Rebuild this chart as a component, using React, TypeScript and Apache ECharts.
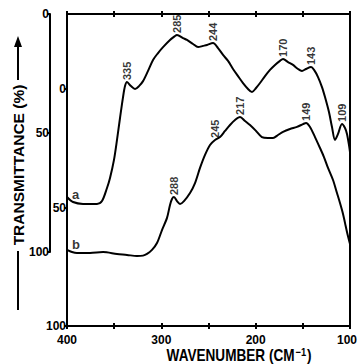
import React, { useEffect, useRef } from "react";
import * as echarts from "echarts";

// Curve a (upper trace, read on the offset left axis)
const waveA = [400, 393.6, 383.0, 368.2, 362.9, 357.6, 354.4, 350.2, 347.0, 343.8, 340.6, 338.5, 336.4, 332.2, 327.9, 323.7, 319.4, 314.1, 308.8, 303.5, 298.2, 290.8, 286.0, 283.4, 277.0, 272.8, 266.4, 261.1, 255.8, 251.6, 245.2, 239.9, 234.6, 229.3, 224.0, 218.7, 213.4, 208.1, 203.9, 199.6, 195.4, 190.1, 184.8, 179.5, 174.2, 171.0, 165.7, 160.4, 155.1, 150.9, 146.6, 141.3, 138.1, 133.9, 129.7, 126.5, 122.3, 119.1, 115.9, 112.7, 108.5, 105.3, 103.2, 101.1, 100.0];
const transA = [76.9, 79.0, 79.8, 79.8, 78.6, 73.1, 68.9, 61.3, 52.9, 43.7, 34.9, 30.3, 28.6, 30.3, 31.5, 30.3, 28.2, 23.9, 19.3, 16.4, 13.9, 10.9, 9.4, 8.8, 10.1, 10.9, 12.6, 13.9, 13.4, 13.0, 12.2, 14.3, 17.2, 19.7, 23.1, 26.1, 29.0, 31.5, 32.8, 31.1, 29.0, 26.1, 23.5, 21.4, 19.7, 18.9, 20.2, 21.4, 23.1, 23.9, 23.1, 22.3, 23.5, 26.5, 30.7, 34.9, 41.2, 47.5, 52.9, 50.4, 46.2, 47.9, 50.4, 55.0, 58.0];

// Curve b (lower trace, read on the inner left axis)
const waveB = [400, 394.7, 389.4, 375.6, 361.8, 347.0, 336.4, 325.8, 319.4, 315.2, 309.9, 304.6, 299.3, 294.0, 290.8, 288.7, 286.6, 283.4, 280.2, 276.0, 269.6, 264.3, 259.0, 253.7, 248.4, 243.1, 237.8, 232.5, 227.2, 221.9, 216.6, 211.3, 206.0, 199.6, 193.4, 187.0, 181.6, 176.3, 171.0, 163.6, 156.2, 149.8, 146.6, 142.4, 137.1, 131.8, 127.6, 123.3, 118.0, 113.8, 110.6, 107.4, 105.3, 103.2, 101.1, 100.0];
const transB = [67.9, 68.8, 69.2, 69.2, 68.8, 69.6, 70.0, 70.5, 70.3, 69.6, 67.9, 65.0, 59.5, 54.4, 48.9, 46.4, 45.6, 47.3, 48.5, 47.3, 43.9, 39.7, 33.3, 27.8, 23.6, 21.5, 20.3, 17.7, 15.2, 13.1, 11.8, 13.5, 15.2, 17.7, 20.3, 20.7, 20.7, 19.4, 18.1, 16.9, 16.0, 14.8, 14.3, 16.0, 20.3, 24.9, 28.7, 33.3, 38.4, 43.9, 48.1, 52.7, 56.5, 60.3, 63.7, 65.4];

// Peak annotations
const peakNamesA = ["335", "285", "244", "170", "143", "109"];
const peakWaveA = [336.4, 283.4, 245.2, 171.0, 141.3, 108.5];
const peakTransA = [28.6, 8.8, 12.2, 18.9, 22.3, 46.2];
const peakNamesB = ["288", "245", "217", "149"];
const peakWaveB = [286.6, 243.1, 216.6, 146.6];
const peakTransB = [45.6, 21.5, 11.8, 14.3];

const xTickLabels = [400, 300, 200, 100];
const yTickValues = [0, 50, 100];

const FONT = "'Liberation Sans', Arial, sans-serif";

export default function App() {
  const ref = useRef<HTMLDivElement>(null);
  useEffect(() => {
    if (!ref.current) return;
    const chart = echarts.init(ref.current, undefined, { renderer: "svg" });
    const black = "#000";
    const lineSt = { color: black, width: 2 };
    const labelStyle = { color: black, fontFamily: FONT, fontWeight: "bold" as const, fontSize: 12 };
    const quietX = (gridIndex: number) => ({
      gridIndex, type: "value" as const, min: 100, max: 400, inverse: true, show: true,
      axisLine: { show: false, onZero: false }, axisTick: { show: false }, axisLabel: { show: false },
      splitLine: { show: false },
    });
    const frameX = (position: "top" | "bottom", inside: boolean, showLine: boolean, showLabel: boolean) => ({
      gridIndex: 0, type: "value" as const, min: 100, max: 400, interval: 50, inverse: true, position,
      axisLine: { show: showLine, onZero: false, lineStyle: lineSt },
      axisTick: { show: true, inside, length: 3, lineStyle: lineSt },
      axisLabel: {
        show: showLabel, margin: 8, ...labelStyle,
        formatter: (v: number) => (!xTickLabels.includes(v) ? "" : v === 100 ? `{r|${v}}` : String(v)),
        rich: { r: { ...labelStyle, padding: [0, 6, 0, 0] } },
      },
      splitLine: { show: false },
    });
    const lineY = (gridIndex: number, position: "left" | "right") => ({
      gridIndex, type: "value" as const, min: 0, max: 100, position,
      axisLine: { show: true, onZero: false, lineStyle: lineSt },
      axisTick: { show: false }, axisLabel: { show: false }, splitLine: { show: false },
    });
    const dataY = (gridIndex: number, showAxis: boolean, showLine: boolean) => ({
      gridIndex, type: "value" as const, min: yTickValues[0], max: yTickValues[2], interval: 50, inverse: true,
      position: "left" as const, show: showAxis,
      axisLine: { show: showLine, onZero: false, lineStyle: lineSt },
      axisTick: { show: true, inside: false, length: 3, lineStyle: lineSt },
      axisLabel: { margin: 1, ...labelStyle },
      splitLine: { show: false },
    });
    const peakSeries = (names: string[], w: number[], t: number[], xi: number, yi: number) => ({
      type: "scatter" as const, xAxisIndex: xi, yAxisIndex: yi, symbolSize: 0, silent: true,
      data: names.map((n, i) => ({ name: n, value: [w[i], t[i]] })),
      label: {
        show: true, formatter: "{b}", position: "top" as const, distance: 2, rotate: 90,
        align: "left" as const, verticalAlign: "middle" as const,
        color: black, fontFamily: FONT, fontWeight: "bold" as const, fontSize: 11,
      },
    });
    const letterSeries = (letter: string, w: number, t: number, xi: number, yi: number, dy: number) => ({
      type: "scatter" as const, xAxisIndex: xi, yAxisIndex: yi, symbolSize: 0, silent: true,
      data: [{ name: letter, value: [w, t] }],
      label: {
        show: true, formatter: "{b}", position: [5, dy] as [number, number],
        align: "left" as const, verticalAlign: "middle" as const,
        color: black, fontFamily: FONT, fontWeight: "bold" as const, fontSize: 13,
      },
    });
    const g = (left: number, top: number, width: number, height: number) => ({
      left, top, width, height, containLabel: false, outerBoundsMode: "none",
    });
    chart.setOption({
      animation: false,
      backgroundColor: "#fff",
      grid: [
        g(67, 14, 283, 312), // frame
        g(67, 14, 283, 238), // curve a
        g(67, 89, 283, 237), // curve b
        g(50, 14, 17, 238),  // offset scale of curve a
      ],
      xAxis: [
        frameX("bottom", true, true, true),
        frameX("bottom", false, false, false),
        frameX("top", true, true, false),
        frameX("top", false, false, false),
        quietX(1),
        quietX(2),
        quietX(3),
      ],
      yAxis: [
        lineY(0, "left"),
        lineY(0, "right"),
        dataY(1, false, false),
        dataY(2, true, false),
        dataY(3, true, true),
      ],
      series: [
        {
          type: "line", xAxisIndex: 4, yAxisIndex: 2, showSymbol: false, smooth: 0.3, silent: true,
          lineStyle: lineSt,
          data: waveA.map((w, i) => [w, transA[i]]),
        },
        {
          type: "line", xAxisIndex: 5, yAxisIndex: 3, showSymbol: false, smooth: 0.3, silent: true,
          lineStyle: lineSt,
          data: waveB.map((w, i) => [w, transB[i]]),
        },
        peakSeries(peakNamesA, peakWaveA, peakTransA, 4, 2),
        peakSeries(peakNamesB, peakWaveB, peakTransB, 5, 3),
        letterSeries("a", waveA[0], transA[0], 4, 2, -3),
        letterSeries("b", waveB[0], transB[0], 5, 3, -5),
        {
          // spine of the offset transmittance scale for curve a
          type: "line", xAxisIndex: 6, yAxisIndex: 4, showSymbol: false, silent: true, clip: false,
          lineStyle: lineSt,
          data: [[400, yTickValues[0]], [400, yTickValues[2]]],
        },
      ],
      graphic: [
        {
          type: "text", x: 18, y: 165, rotation: Math.PI / 2,
          style: {
            text: "TRANSMITTANCE (%)", align: "center", verticalAlign: "middle", fill: black,
            fontFamily: FONT, fontWeight: "bold", fontSize: 15.5,
          },
        },
        { type: "line", shape: { x1: 18, y1: 80, x2: 18, y2: 44 }, style: { stroke: black, lineWidth: 2 } },
        { type: "polygon", shape: { points: [[18, 36], [14, 47], [22, 47]] }, style: { fill: black } },
        { type: "line", shape: { x1: 18, y1: 251, x2: 18, y2: 310 }, style: { stroke: black, lineWidth: 2 } },
        {
          type: "text", x: 239, y: 356, scaleX: 0.85,
          style: {
            text: "{m|WAVENUMBER (CM}{s|−1}{m|)}", align: "center", verticalAlign: "middle", fill: black,
            rich: {
              m: { fontFamily: FONT, fontWeight: "bold", fontSize: 16, fill: black },
              s: { fontFamily: FONT, fontWeight: "bold", fontSize: 11, fill: black, padding: [0, 1, 8, 1] },
            },
          },
        },
      ],
    });
    return () => chart.dispose();
  }, []);
  return <div ref={ref} style={{ position: "absolute", left: 0, top: 0, width: 358, height: 364 }} />;
}
